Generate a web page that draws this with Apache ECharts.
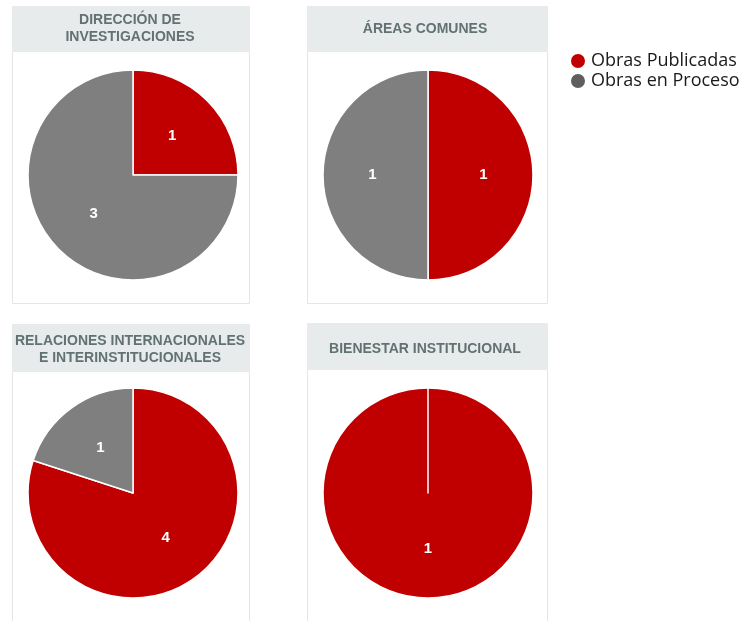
<!DOCTYPE html>
<html><head><meta charset="utf-8">
<script src="https://cdn.jsdelivr.net/npm/echarts@6/dist/echarts.min.js"></script>
<style>html,body{margin:0;padding:0;background:#fff}#c{width:745px;height:621px}</style>
</head><body><div id="c"></div>
<script>
const seriesNames = ['Obras Publicadas', 'Obras en Proceso'];
const panelTitles = ['DIRECCIÓN DE\nINVESTIGACIONES', 'ÁREAS COMUNES', 'RELACIONES INTERNACIONALES\nE INTERINSTITUCIONALES', 'BIENESTAR INSTITUCIONAL'];
const publicadas = [1, 1, 4, 1];
const enProceso = [3, 1, 1, 0];

const RED = '#c00000', GRAY = '#7f7f7f';
const panels = [
  {x: 12, y: 6, w: 237, h: 297, bandH: 46, cx: 133, cy: 175, ty: 12},
  {x: 307, y: 6, w: 240, h: 297, bandH: 46, cx: 428, cy: 175, ty: 21},
  {x: 12, y: 324, w: 237, h: 310, bandH: 48, cx: 133, cy: 493, ty: 333},
  {x: 307, y: 323, w: 240, h: 310, bandH: 47, cx: 428, cy: 493, ty: 341}
];
const graphics = [];
panels.forEach(p => {
  graphics.push({type: 'rect', shape: {x: p.x + 0.5, y: p.y + 0.5, width: p.w, height: p.h}, style: {fill: '#fff', stroke: '#e3e6e6', lineWidth: 1}, z: -2});
  graphics.push({type: 'rect', shape: {x: p.x, y: p.y, width: p.w + 1, height: p.bandH}, style: {fill: '#e8ebeb'}, z: -1});
});
const titles = panelTitles.map((t, i) => ({
  text: t, left: panels[i].cx - 3, top: panels[i].ty, textAlign: 'center', padding: 0,
  textStyle: {fontFamily: 'Liberation Sans', fontWeight: 'bold', fontSize: 14, color: '#627272', lineHeight: 17}
}));
const series = publicadas.map((v, i) => ({
  type: 'pie', center: [panels[i].cx, panels[i].cy], radius: [0, 105],
  startAngle: 90, clockwise: true, animation: false, silent: true,
  itemStyle: {borderColor: '#fff', borderWidth: 1.5},
  label: {show: true, position: 'inside', color: '#fff', fontWeight: 'bold', fontSize: 15, fontFamily: 'Liberation Sans',
    formatter: d => d.value === 0 ? '' : String(d.value)},
  labelLine: {show: false},
  data: [
    {name: seriesNames[0], value: v, itemStyle: {color: RED}},
    {name: seriesNames[1], value: enProceso[i], itemStyle: {color: GRAY}}
  ]
}));
const chart = echarts.init(document.getElementById('c'), null, {renderer: 'canvas'});
chart.setOption({
  backgroundColor: '#fff',
  animation: false,
  title: titles,
  graphic: graphics,
  legend: {
    orient: 'vertical', left: 569, top: 52, itemWidth: 16, itemHeight: 16, itemGap: 2, padding: 0,
    icon: 'circle', selectedMode: false,
    textStyle: {fontSize: 18, lineHeight: 16, color: '#1a1a1a', fontFamily: 'Open Sans'},
    data: [
      {name: seriesNames[0], itemStyle: {color: RED}},
      {name: seriesNames[1], itemStyle: {color: '#5f5f5f'}}
    ]
  },
  series: series
});
</script></body></html>
